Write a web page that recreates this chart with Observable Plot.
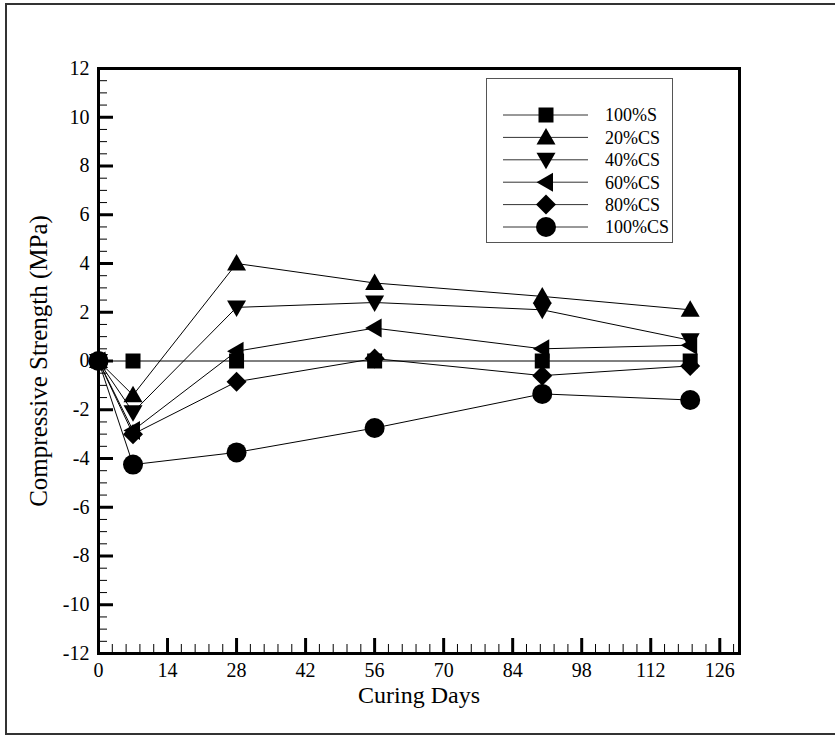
<!DOCTYPE html>
<html><head><meta charset="utf-8">
<script src="https://cdn.jsdelivr.net/npm/d3@7"></script>
<script src="https://cdn.jsdelivr.net/npm/@observablehq/plot@0.6"></script>
<style>
html,body{margin:0;padding:0;background:#fff;overflow:hidden;}
#wrap{position:relative;width:835px;height:737px;overflow:hidden;}
#border{position:absolute;left:5px;top:3px;width:845px;height:732px;border:2px solid #333;box-sizing:border-box;pointer-events:none;}
#chart{position:absolute;left:0;top:0;}
#chart svg text{font-family:'Liberation Serif','Times New Roman',Times,serif;}
#legend{position:absolute;left:486px;top:78px;width:187px;height:165px;border:1px solid #555;box-sizing:border-box;background:#fff;}
</style></head><body><div id="wrap"><div id="border"></div><div id="chart"></div><div id="legend"></div></div>
<script>
// ---- data ----
const days = [0, 7, 28, 56, 90, 120];
const seriesNames = ["100%S", "20%CS", "40%CS", "60%CS", "80%CS", "100%CS"];
const s100S  = [0, 0, 0, 0, 0, 0];
const cs20   = [0, -1.4, 4.0, 3.2, 2.65, 2.1];
const cs40   = [0, -2.1, 2.2, 2.4, 2.1, 0.85];
const cs60   = [0, -2.85, 0.4, 1.35, 0.5, 0.65];
const cs80   = [0, -3.0, -0.85, 0.1, -0.6, -0.2];
const cs100  = [0, -4.25, -3.75, -2.75, -1.35, -1.6];
const xTicks = [0, 14, 28, 42, 56, 70, 84, 98, 112, 126];
const yTicks = [-12, -10, -8, -6, -4, -2, 0, 2, 4, 6, 8, 10, 12];
const xTitle = "Curing Days";
const yTitle = "Compressive Strength (MPa)";

const allSeries = [s100S, cs20, cs40, cs60, cs80, cs100];
const data = seriesNames.flatMap((name, si) => days.map((d, i) => ({series: name, day: d, value: allSeries[si][i]})));
const xMinor = d3.range(0, 47).map(i => +(i * 2.8).toFixed(2));
const yMinor = d3.range(-24, 25).map(i => i / 2);

// ---- symbols ----
const shapes = {
  square: (c, r) => { const h = 0.75 * r; c.moveTo(-h, -h); c.lineTo(h, -h); c.lineTo(h, h); c.lineTo(-h, h); c.closePath(); },
  up: (c, r) => { c.moveTo(0, -0.95 * r); c.lineTo(0.95 * r, 0.7 * r); c.lineTo(-0.95 * r, 0.7 * r); c.closePath(); },
  down: (c, r) => { c.moveTo(0, 0.95 * r); c.lineTo(0.95 * r, -0.7 * r); c.lineTo(-0.95 * r, -0.7 * r); c.closePath(); },
  left: (c, r) => { c.moveTo(-0.95 * r, 0); c.lineTo(0.7 * r, -0.95 * r); c.lineTo(0.7 * r, 0.95 * r); c.closePath(); },
  diamond: (c, r) => { c.moveTo(0, -r); c.lineTo(r, 0); c.lineTo(0, r); c.lineTo(-r, 0); c.closePath(); },
  circle: (c, r) => { c.moveTo(r, 0); c.arc(0, 0, r, 0, 2 * Math.PI); }
};
const shapeOrder = ["square", "up", "down", "left", "diamond", "circle"];
const symbolObjs = shapeOrder.map(k => ({draw(ctx, size) { shapes[k](ctx, Math.sqrt(size / Math.PI)); }}));

const serif = "'Liberation Serif','Times New Roman',Times,serif";
const fmt = d => String(d);

const chart = Plot.plot({
  width: 835, height: 737,
  marginLeft: 98, marginRight: 96, marginTop: 68, marginBottom: 84,
  style: {fontFamily: serif, background: "transparent", color: "black"},
  x: {domain: [0, 130], label: null},
  y: {domain: [-12, 12], label: null},
  symbol: {domain: seriesNames, range: symbolObjs},
  marks: [
    Plot.axisX(xMinor, {anchor: "bottom", tickSize: -9, strokeWidth: 1, tickFormat: () => ""}),
    Plot.axisY(yMinor, {anchor: "left", tickSize: -9, strokeWidth: 1, tickFormat: () => ""}),
    Plot.axisX(xTicks, {anchor: "bottom", tickSize: -15, strokeWidth: 3, tickFormat: () => ""}),
    Plot.axisY(yTicks, {anchor: "left", tickSize: -15, strokeWidth: 3, tickFormat: () => ""}),
    Plot.axisX(xTicks, {anchor: "bottom", tickSize: 0, tickPadding: 9, fontSize: 20, fontFamily: serif, tickFormat: fmt}),
    Plot.axisY(yTicks, {anchor: "left", tickSize: 0, tickPadding: 9, fontSize: 20, fontFamily: serif, tickFormat: fmt}),
    Plot.text([xTitle], {text: d => d, frameAnchor: "bottom", dy: 42, fontSize: 24, fontFamily: serif, textAnchor: "middle", lineAnchor: "middle"}),
    Plot.text([yTitle], {text: d => d, frameAnchor: "left", dx: -60, rotate: -90, fontSize: 25, fontFamily: serif, textAnchor: "middle", lineAnchor: "middle"}),
    Plot.line(data, {x: "day", y: "value", z: "series", stroke: "black", strokeWidth: 1}),
    Plot.dot(data, {x: "day", y: "value", symbol: "series", r: 10, fill: "black", stroke: "none"}),
    Plot.frame({stroke: "black", strokeWidth: 3})
  ]
});
document.getElementById("chart").appendChild(chart);

// ---- legend ----
const leg = d3.select("#legend").append("svg").attr("width", 185).attr("height", 163)
  .style("font-family", serif);
seriesNames.forEach((name, i) => {
  const y = 36 + i * 22.4;
  const g = leg.append("g");
  g.append("line").attr("x1", 16).attr("x2", 101).attr("y1", y).attr("y2", y).attr("stroke", "#333").attr("stroke-width", 1);
  const p = d3.path();
  shapes[shapeOrder[i]](p, 10);
  g.append("path").attr("d", p.toString()).attr("transform", `translate(59,${y})`).attr("fill", "black");
  g.append("text").attr("x", 118).attr("y", y).attr("dy", "0.35em").attr("font-size", 18).text(name);
});
</script>
</body></html>
